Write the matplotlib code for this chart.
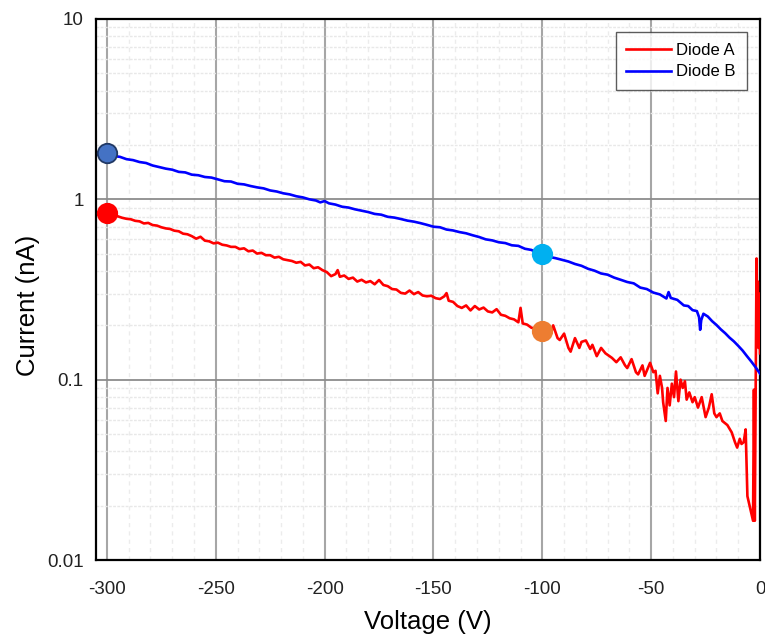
import numpy as np
import matplotlib
matplotlib.use("Agg")
import matplotlib.pyplot as plt
from matplotlib.ticker import FixedLocator, FixedFormatter

plt.rcParams['font.family'] = ['Liberation Sans', 'DejaVu Sans']
plt.rcParams['axes.unicode_minus'] = False

# Diode B (blue) voltage / current (nA)
volt_b = [-300, -297, -294, -291, -288, -285, -282, -279, -276, -273, -270, -267, -264, -261,
          -258, -255, -252, -249, -246, -243, -240, -237, -234, -231, -228, -225, -222, -219,
          -216, -213, -210, -207, -204, -202, -200, -198, -195, -192, -189, -186, -183, -180,
          -177, -174, -171, -168, -165, -162, -159, -156, -153, -150, -147, -144, -141, -138,
          -135, -132, -129, -126, -123, -120, -117, -114, -111, -108, -105, -102, -100, -97,
          -94, -91, -88, -85, -82, -79, -76, -73, -70, -67, -64, -61, -58, -55, -52, -49, -46,
          -43, -42, -41, -38, -35, -33, -31, -29, -28, -27.5, -27, -26, -24, -22, -20, -18,
          -16, -14, -12, -10, -8, -6, -4, -2, 0]
curr_b = [1.80, 1.74, 1.72, 1.67, 1.65, 1.61, 1.59, 1.54, 1.51, 1.48, 1.46, 1.42, 1.41, 1.37,
          1.36, 1.33, 1.32, 1.29, 1.26, 1.255, 1.22, 1.21, 1.185, 1.165, 1.15, 1.12, 1.105, 1.08,
          1.065, 1.04, 1.025, 1.00, 0.985, 0.962, 0.978, 0.95, 0.935, 0.91, 0.90, 0.88, 0.865, 0.85,
          0.83, 0.822, 0.80, 0.792, 0.778, 0.762, 0.752, 0.738, 0.722, 0.705, 0.70, 0.68, 0.672, 0.658,
          0.648, 0.632, 0.618, 0.60, 0.592, 0.578, 0.572, 0.556, 0.552, 0.532, 0.524, 0.503, 0.50, 0.48,
          0.472, 0.462, 0.452, 0.438, 0.428, 0.412, 0.402, 0.388, 0.382, 0.368, 0.358, 0.348, 0.342, 0.324, 0.318, 0.304, 0.297,
          0.282, 0.306, 0.284, 0.277, 0.258, 0.256, 0.243, 0.24, 0.222, 0.189, 0.214, 0.232, 0.224, 0.211, 0.201, 0.19,
          0.181, 0.171, 0.163, 0.154, 0.145, 0.135, 0.126, 0.117, 0.108]

# Diode A (red)
volt_a = [-300, -297, -295, -293, -291, -289, -287, -285, -283, -281, -279, -277, -275, -273, -271,
          -269, -267, -265, -263, -261, -259, -257, -255, -253, -251, -249, -247, -245, -243, -241,
          -239, -237, -235, -233, -231, -229, -227, -225, -223, -221, -219, -217, -215, -213, -211,
          -209, -207, -205, -203, -201, -199, -197, -195, -194, -193, -191, -189, -187, -185, -183,
          -181, -179, -177, -175, -173, -171, -169, -167, -165, -163, -161, -159, -157, -155, -153,
          -151, -149, -147, -145, -144, -143, -141, -139, -137, -135, -133, -131, -129, -127, -125,
          -123, -121, -119, -117, -115, -113, -111, -110, -109, -107, -105, -103, -101,
          -98, -96, -95, -93, -92, -90, -88, -87, -85, -83, -82, -80, -78, -77, -75, -73, -71,
          -68, -66, -64, -62, -61, -59, -57, -56, -54, -53, -51, -50.5, -49,
          -48, -47, -46, -45, -44.5, -43.3, -42.5, -41.5, -40.5, -39.5, -38.6, -37.5, -36.5,
          -35.5, -34.5, -33.7, -32.5, -31, -30, -28.5, -26.8, -25, -23.5, -22.2, -21, -20,
          -18.5, -17.3, -15, -13, -11.5, -10.5, -9.3, -8.5, -7.5, -6.6, -5.8, -3.2, -2.8,
          -2.4, -1.6, -1.3, -1.0, -0.7, -0.4, 0]
curr_a = [0.84, 0.81, 0.805, 0.79, 0.78, 0.775, 0.76, 0.755, 0.735, 0.74, 0.72, 0.715, 0.70, 0.69, 0.685,
          0.67, 0.665, 0.645, 0.64, 0.625, 0.605, 0.62, 0.59, 0.585, 0.57, 0.575, 0.56, 0.555, 0.545, 0.545,
          0.53, 0.535, 0.515, 0.52, 0.50, 0.505, 0.49, 0.49, 0.475, 0.48, 0.465, 0.46, 0.455, 0.445, 0.45,
          0.43, 0.435, 0.415, 0.42, 0.405, 0.395, 0.375, 0.385, 0.405, 0.372, 0.378, 0.362, 0.368, 0.35, 0.358,
          0.346, 0.352, 0.338, 0.357, 0.335, 0.33, 0.318, 0.316, 0.303, 0.30, 0.312, 0.298, 0.306, 0.293, 0.29,
          0.292, 0.283, 0.28, 0.29, 0.302, 0.274, 0.27, 0.256, 0.25, 0.258, 0.242, 0.256, 0.245, 0.251, 0.239,
          0.236, 0.246, 0.229, 0.226, 0.219, 0.216, 0.208, 0.25, 0.205, 0.202, 0.194, 0.192, 0.185,
          0.189, 0.18, 0.20, 0.17, 0.166, 0.18, 0.15, 0.143, 0.17, 0.15, 0.162, 0.165, 0.148, 0.156, 0.135, 0.15, 0.14,
          0.132, 0.125, 0.133, 0.12, 0.116, 0.13, 0.11, 0.107, 0.12, 0.105, 0.12, 0.124, 0.11,
          0.112, 0.084, 0.105, 0.09, 0.075, 0.059, 0.09, 0.072, 0.095, 0.08, 0.111, 0.076, 0.10,
          0.09, 0.098, 0.0775, 0.085, 0.075, 0.08, 0.07, 0.08, 0.062, 0.07, 0.083, 0.065, 0.062,
          0.065, 0.059, 0.056, 0.051, 0.045, 0.042, 0.047, 0.044, 0.045, 0.053, 0.0226, 0.0165, 0.088,
          0.0165, 0.47, 0.20, 0.35, 0.15, 0.30, 0.14]

# highlighted points
pt_volt = [-300, -300, -100, -100]
pt_curr = [1.80, 0.84, 0.50, 0.185]
pt_face = ['#4472C4', '#FF0000', '#00B0F0', '#ED7D31']
pt_edge = ['#203864', '#FF0000', '#00B0F0', '#ED7D31']

x_ticks = [-300, -250, -200, -150, -100, -50, 0]
y_ticks = [0.01, 0.1, 1, 10]
y_labels = ['0.01', '0.1', '1', '10']

fig = plt.figure(figsize=(7.65, 6.35), dpi=100)
ax = fig.add_axes([0.1255, 0.1181, 0.868, 0.852])

ax.set_yscale('log')
ax.set_xlim(-305, 0)
ax.set_ylim(0.01, 10)

ax.xaxis.set_major_locator(FixedLocator(x_ticks))
ax.xaxis.set_minor_locator(FixedLocator(np.arange(-300, 1, 10)))
ax.yaxis.set_major_locator(FixedLocator(y_ticks))
ax.yaxis.set_major_formatter(FixedFormatter(y_labels))
ax.yaxis.set_minor_locator(matplotlib.ticker.LogLocator(base=10, subs=np.arange(2, 10)))
ax.yaxis.set_minor_formatter(matplotlib.ticker.NullFormatter())

ax.grid(which='minor', axis='y', color='#e8e8e8', linestyle=(0, (2, 1)), linewidth=1.0)
ax.grid(which='minor', axis='x', color='#ececec', linestyle=(0, (3, 3)), linewidth=1.0)
ax.grid(which='major', axis='x', color='#a6a6a6', linewidth=1.5)
ax.grid(which='major', axis='y', color='#8c8c8c', linewidth=1.3)
ax.set_axisbelow(True)

ax.plot(volt_a, curr_a, color='#FF0000', linewidth=1.9, label='Diode A', zorder=3)
ax.plot(volt_b, curr_b, color='#0000FF', linewidth=1.9, label='Diode B', zorder=3)

for v, c, fc, ec in zip(pt_volt, pt_curr, pt_face, pt_edge):
    ax.plot(v, c, 'o', markersize=14, markerfacecolor=fc, markeredgecolor=ec,
            markeredgewidth=1.3, zorder=4)

for s in ax.spines.values():
    s.set_linewidth(1.6)
    s.set_color('black')

ax.tick_params(which='both', length=0)
ax.tick_params(axis='x', labelsize=13.5, pad=15, colors='#222222')
ax.tick_params(axis='y', labelsize=13.5, pad=9, colors='#222222')
ax.set_xlabel('Voltage (V)', fontsize=18.5, labelpad=9)
ax.set_ylabel('Current (nA)', fontsize=18.5)
ax.yaxis.set_label_coords(-0.085, 0.47)

leg = ax.legend(loc='upper right', bbox_to_anchor=(0.98, 0.976), borderaxespad=0,
                fontsize=12, frameon=True, fancybox=False, handlelength=2.7,
                handletextpad=0.3, borderpad=0.65, labelspacing=0.4)
leg.get_frame().set_edgecolor('#333333')
leg.get_frame().set_linewidth(1.0)

fig.savefig('out.png', dpi=100)
